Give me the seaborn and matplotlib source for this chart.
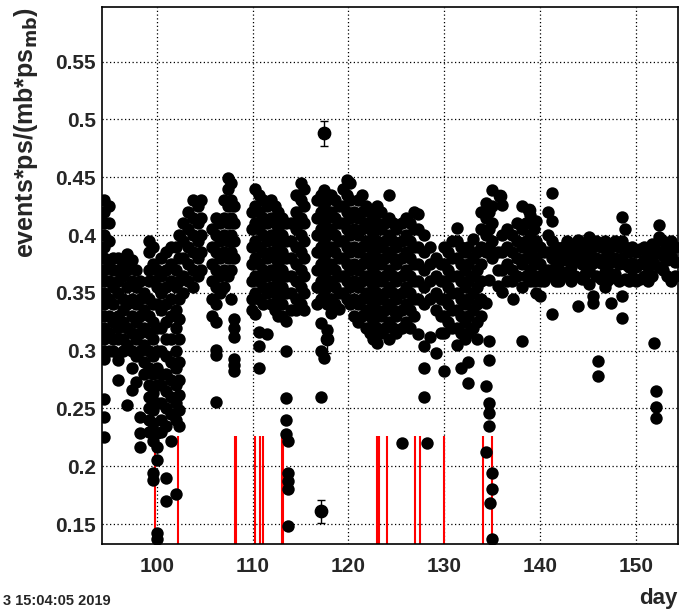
import pandas as pd
import matplotlib
matplotlib.use("Agg")
import matplotlib.pyplot as plt
from matplotlib.ticker import MultipleLocator, FixedLocator
import seaborn as sns

# === DATA ===
# each block: days of the point columns + the rates measured at that day
days_a = [94.5, 95.0, 95.5, 96.0, 96.5, 96.9, 97.4, 97.9, 98.3, 98.7, 99.2, 99.6, 100.0,
          100.5, 101.0, 101.5, 102.0, 102.3, 102.8, 103.3, 103.8, 104.3, 104.6]
rates_a = [
    [0.43, 0.42, 0.41, 0.40, 0.39, 0.38, 0.37, 0.36, 0.35, 0.34, 0.33, 0.32, 0.31, 0.30, 0.293, 0.258, 0.243, 0.225],
    [0.425, 0.41, 0.395, 0.375, 0.36, 0.345, 0.33, 0.315, 0.30],
    [0.38, 0.37, 0.355, 0.34, 0.325, 0.31, 0.30],
    [0.38, 0.37, 0.36, 0.35, 0.33, 0.32, 0.31, 0.292, 0.275],
    [0.375, 0.365, 0.345, 0.335, 0.325, 0.31, 0.30],
    [0.384, 0.37, 0.355, 0.34, 0.32, 0.305, 0.253],
    [0.378, 0.36, 0.345, 0.33, 0.315, 0.30, 0.285, 0.266],
    [0.37, 0.355, 0.34, 0.325, 0.31, 0.295, 0.273],
    [0.36, 0.345, 0.33, 0.315, 0.30, 0.243, 0.229, 0.217],
    [0.35, 0.335, 0.32, 0.305, 0.29, 0.28],
    [0.395, 0.385, 0.37, 0.36, 0.345, 0.33, 0.315, 0.30, 0.285, 0.27, 0.26, 0.25, 0.24, 0.23],
    [0.39, 0.375, 0.36, 0.34, 0.325, 0.31, 0.295, 0.28, 0.263, 0.249, 0.237, 0.222, 0.194, 0.188],
    [0.37, 0.355, 0.34, 0.32, 0.30, 0.285, 0.27, 0.255, 0.229, 0.217, 0.205, 0.142, 0.137],
    [0.38, 0.365, 0.35, 0.335, 0.32, 0.30, 0.28, 0.27, 0.255, 0.24, 0.23],
    [0.385, 0.37, 0.355, 0.34, 0.325, 0.31, 0.295, 0.28, 0.265, 0.25, 0.235, 0.19, 0.17],
    [0.39, 0.375, 0.36, 0.345, 0.33, 0.31, 0.29, 0.275, 0.26, 0.245, 0.222],
    [0.39, 0.37, 0.355, 0.335, 0.32, 0.30, 0.285, 0.27, 0.255, 0.24, 0.176],
    [0.40, 0.38, 0.36, 0.345, 0.327, 0.31, 0.29, 0.275, 0.262, 0.249, 0.235],
    [0.41, 0.395, 0.38, 0.365, 0.35],
    [0.42, 0.405, 0.39, 0.375, 0.36],
    [0.43, 0.415, 0.40, 0.385, 0.37, 0.355],
    [0.425, 0.41, 0.395, 0.38, 0.365],
    [0.43, 0.415, 0.40, 0.385, 0.37],
]

days_b = [105.8, 106.2, 106.6, 107.0, 107.4, 107.8, 108.1]
rates_b = [
    [0.405, 0.39, 0.375, 0.36, 0.345, 0.33],
    [0.415, 0.40, 0.385, 0.37, 0.355, 0.34, 0.325, 0.301, 0.296, 0.256],
    [0.41, 0.395, 0.38, 0.365, 0.35],
    [0.43, 0.415, 0.40, 0.385, 0.37, 0.355],
    [0.449, 0.44, 0.425, 0.41, 0.395, 0.38, 0.365],
    [0.445, 0.43, 0.415, 0.40, 0.385, 0.37, 0.345],
    [0.425, 0.41, 0.395, 0.38, 0.327, 0.32, 0.312, 0.293, 0.288, 0.282],
]

days_c = [109.9, 110.3, 110.7, 111.1, 111.5, 111.9, 112.3, 112.7, 113.1, 113.5, 113.7]
rates_c = [
    [0.42, 0.405, 0.39, 0.375, 0.36, 0.345, 0.335],
    [0.44, 0.425, 0.41, 0.395, 0.38, 0.365, 0.35, 0.332],
    [0.435, 0.42, 0.405, 0.39, 0.375, 0.36, 0.345, 0.316, 0.304, 0.285],
    [0.43, 0.415, 0.40, 0.385, 0.37, 0.355, 0.34],
    [0.425, 0.41, 0.395, 0.38, 0.365, 0.35, 0.314],
    [0.43, 0.415, 0.40, 0.385, 0.37, 0.355, 0.34],
    [0.425, 0.41, 0.395, 0.38, 0.365, 0.35, 0.335],
    [0.42, 0.405, 0.39, 0.375, 0.36, 0.345, 0.33],
    [0.415, 0.40, 0.385, 0.37, 0.355, 0.34, 0.33],
    [0.41, 0.395, 0.38, 0.365, 0.35, 0.326, 0.30, 0.259, 0.24, 0.228],
    [0.222, 0.194, 0.187, 0.18, 0.148],
]

days_d = [114.0, 114.5, 115.0, 115.4]
rates_d = [
    [0.41, 0.395, 0.38, 0.365, 0.35, 0.335],
    [0.435, 0.42, 0.405, 0.39, 0.375, 0.36, 0.345, 0.335],
    [0.445, 0.43, 0.415, 0.40, 0.385, 0.37, 0.355, 0.34],
    [0.44, 0.425, 0.41, 0.395, 0.38, 0.365, 0.35, 0.335],
]

days_e = [116.7, 117.1, 117.5, 117.8, 118.2, 118.6, 119.0, 119.4, 119.8, 120.2, 120.6,
          121.0, 121.4, 121.8, 122.2, 122.6, 123.0, 123.4, 123.8, 124.2, 124.6, 125.0]
rates_e = [
    [0.43, 0.415, 0.40, 0.385, 0.37, 0.355, 0.34],
    [0.435, 0.42, 0.405, 0.39, 0.375, 0.36, 0.345, 0.324, 0.30, 0.26, 0.161],
    [0.439, 0.425, 0.41, 0.395, 0.38, 0.365, 0.35, 0.294, 0.488],
    [0.43, 0.415, 0.40, 0.385, 0.37, 0.355, 0.34, 0.318, 0.31],
    [0.435, 0.42, 0.405, 0.39, 0.375, 0.36, 0.345, 0.333],
    [0.43, 0.415, 0.40, 0.385, 0.37, 0.355, 0.34],
    [0.425, 0.41, 0.395, 0.38, 0.365, 0.35, 0.336],
    [0.44, 0.425, 0.41, 0.395, 0.38, 0.365, 0.35],
    [0.448, 0.435, 0.42, 0.405, 0.39, 0.375, 0.36, 0.345],
    [0.445, 0.43, 0.415, 0.40, 0.385, 0.37, 0.355, 0.34],
    [0.42, 0.405, 0.39, 0.375, 0.36, 0.345, 0.33],
    [0.43, 0.415, 0.40, 0.385, 0.37, 0.355, 0.34, 0.325],
    [0.435, 0.42, 0.405, 0.39, 0.375, 0.36, 0.345, 0.33],
    [0.425, 0.41, 0.395, 0.38, 0.365, 0.35, 0.335, 0.32],
    [0.42, 0.405, 0.39, 0.375, 0.36, 0.345, 0.33, 0.315],
    [0.415, 0.40, 0.385, 0.37, 0.355, 0.34, 0.325, 0.31],
    [0.425, 0.41, 0.395, 0.38, 0.365, 0.35, 0.335, 0.32, 0.307],
    [0.42, 0.405, 0.39, 0.375, 0.36, 0.345, 0.33, 0.315],
    [0.41, 0.395, 0.38, 0.365, 0.35, 0.335, 0.32],
    [0.435, 0.415, 0.40, 0.385, 0.37, 0.355, 0.34, 0.325, 0.31],
    [0.41, 0.395, 0.38, 0.365, 0.35, 0.335, 0.32],
    [0.405, 0.39, 0.375, 0.36, 0.345, 0.33, 0.315],
]

days_f = [125.6, 126.0, 126.4, 126.8, 127.3, 127.9, 128.2, 128.5, 129.1]
rates_f = [
    [0.41, 0.395, 0.38, 0.365, 0.35, 0.335, 0.32, 0.22],
    [0.415, 0.40, 0.385, 0.37, 0.355, 0.34, 0.325],
    [0.41, 0.395, 0.38, 0.365, 0.35, 0.335, 0.32],
    [0.42, 0.405, 0.39, 0.375, 0.36, 0.345, 0.33],
    [0.418, 0.405, 0.39, 0.375, 0.36, 0.345, 0.314],
    [0.40, 0.385, 0.37, 0.355, 0.34, 0.304, 0.285, 0.26],
    [0.22],
    [0.39, 0.375, 0.36, 0.345, 0.312],
    [0.38, 0.365, 0.35, 0.335, 0.298],
]

days_g = [129.6, 130.0, 130.4, 130.8, 131.3, 131.7, 132.1, 132.5, 133.0, 133.4]
rates_g = [
    [0.375, 0.36, 0.345, 0.33, 0.315],
    [0.39, 0.375, 0.36, 0.345, 0.33, 0.315, 0.282],
    [0.385, 0.37, 0.355, 0.34, 0.325],
    [0.395, 0.38, 0.365, 0.35, 0.335, 0.32],
    [0.406, 0.395, 0.38, 0.365, 0.35, 0.335, 0.32, 0.305],
    [0.39, 0.375, 0.36, 0.345, 0.33, 0.315, 0.285],
    [0.385, 0.37, 0.355, 0.34, 0.325, 0.31],
    [0.39, 0.375, 0.36, 0.345, 0.33, 0.315, 0.29, 0.272],
    [0.397, 0.38, 0.365, 0.35, 0.335, 0.32],
    [0.385, 0.37, 0.355, 0.34, 0.325, 0.31],
]

days_h = [133.8, 134.3, 134.6, 134.8, 135.0, 135.6]
rates_h = [
    [0.42, 0.405, 0.39, 0.375, 0.36, 0.345, 0.33],
    [0.428, 0.415, 0.40, 0.385, 0.341, 0.269, 0.212],
    [0.42, 0.405, 0.39, 0.361, 0.308, 0.292, 0.255, 0.246, 0.235],
    [0.168],
    [0.439, 0.425, 0.41, 0.395, 0.38, 0.194, 0.18, 0.137],
    [0.385, 0.37, 0.356],
]

days_i = [136.0, 136.5, 137.0, 137.2, 137.6, 138.1, 138.5, 138.9, 139.3, 139.6, 140.0,
          140.4, 140.8, 141.2, 141.6, 142.0, 142.4, 142.8, 143.2, 143.6, 143.9, 144.3,
          144.7, 145.1, 145.5, 145.8, 146.0, 146.3, 146.7, 147.0, 147.4, 147.8, 148.2,
          148.5, 148.8, 149.2, 149.6, 150.0, 150.4, 150.8, 151.2, 151.6, 151.9, 152.1,
          152.4, 152.8, 153.2, 153.6, 154.0]
rates_i = [
    [0.426, 0.40, 0.385, 0.37, 0.351],
    [0.405, 0.39, 0.375, 0.36],
    [0.40, 0.385, 0.37, 0.36],
    [0.345],
    [0.41, 0.395, 0.38, 0.365],
    [0.425, 0.405, 0.39, 0.375, 0.355, 0.308],
    [0.41, 0.395, 0.38, 0.365],
    [0.417, 0.40, 0.385, 0.37, 0.36],
    [0.405, 0.39, 0.375, 0.36],
    [0.412, 0.395, 0.38, 0.365, 0.35],
    [0.39, 0.375, 0.36, 0.347],
    [0.385, 0.37, 0.36],
    [0.42, 0.40, 0.385, 0.37],
    [0.436, 0.412, 0.395, 0.38, 0.365, 0.332],
    [0.39, 0.375, 0.36],
    [0.385, 0.37, 0.36],
    [0.39, 0.378, 0.365],
    [0.395, 0.38, 0.368],
    [0.385, 0.372, 0.36],
    [0.39, 0.378, 0.365],
    [0.396, 0.38, 0.339],
    [0.388, 0.375, 0.362],
    [0.392, 0.378, 0.366],
    [0.398, 0.385, 0.37, 0.358],
    [0.39, 0.376, 0.347, 0.341],
    [0.395, 0.38, 0.365],
    [0.291, 0.278],
    [0.39, 0.376, 0.362],
    [0.395, 0.38, 0.368, 0.355],
    [0.385, 0.372, 0.36],
    [0.39, 0.377, 0.363, 0.341],
    [0.395, 0.38, 0.366],
    [0.39, 0.375, 0.36],
    [0.416, 0.395, 0.38, 0.347, 0.328],
    [0.405, 0.39, 0.375, 0.362],
    [0.385, 0.372, 0.36],
    [0.39, 0.376, 0.364],
    [0.385, 0.372, 0.36],
    [0.388, 0.375, 0.362],
    [0.39, 0.378, 0.365],
    [0.385, 0.372, 0.36],
    [0.392, 0.378, 0.365],
    [0.39, 0.375, 0.307],
    [0.265, 0.251, 0.242],
    [0.409, 0.398, 0.385, 0.372],
    [0.395, 0.382, 0.37],
    [0.39, 0.378, 0.365],
    [0.395, 0.382, 0.36],
    [0.39, 0.377, 0.365],
]

# points whose error bars stick out of the markers
err_days = [117.5, 117.1, 117.8, 135.8, 138.8, 114.7]
err_rates = [0.488, 0.161, 0.310, 0.434, 0.422, 0.412]
err_sizes = [0.011, 0.010, 0.012, 0.004, 0.004, 0.004]

# red marks (days), drawn from the bottom of the frame up to cut_top
cut_days = [99.83, 102.25, 108.2, 108.25, 110.28, 110.73, 111.07, 113.1, 113.2,
            122.95, 123.2, 124.0, 126.9, 127.45, 130.0, 134.0, 134.95]
cut_top = 0.2265

ytick_vals = [0.15, 0.2, 0.25, 0.3, 0.35, 0.4, 0.45, 0.5, 0.55]
ytick_labels = ["0.15", "0.2", "0.25", "0.3", "0.35", "0.4", "0.45", "0.5", "0.55"]
xtick_vals = [100, 110, 120, 130, 140, 150]

# === Build table ===
blocks = [(days_a, rates_a), (days_b, rates_b), (days_c, rates_c), (days_d, rates_d),
          (days_e, rates_e), (days_f, rates_f), (days_g, rates_g), (days_h, rates_h),
          (days_i, rates_i)]
rows = []
for days, rates in blocks:
    for d, col in zip(days, rates):
        for r in col:
            rows.append((d, r))
df = pd.DataFrame(rows, columns=["day", "rate"])

# === Plot ===
sns.set_style("white")
plt.rcParams["font.family"] = ["Liberation Sans", "DejaVu Sans"]
plt.rcParams["font.weight"] = "bold"

fig = plt.figure(figsize=(6.81, 6.12), dpi=100)
ax = fig.add_axes([0.1493, 0.1106, 0.8458, 0.8775])

ax.vlines(cut_days, 0.1325, cut_top, colors="#ff0000", linewidth=1.5, zorder=2)
sns.scatterplot(data=df, x="day", y="rate", color="black", s=80, linewidth=0,
                ax=ax, zorder=3, legend=False)
ax.errorbar(err_days, err_rates, yerr=err_sizes, fmt="o", color="black", ms=8.9,
            capsize=3, elinewidth=1, capthick=1, zorder=4)

ax.set_xlim(94.27, 154.32)
ax.set_ylim(0.1325, 0.597)
ax.xaxis.set_major_locator(FixedLocator(xtick_vals))
ax.xaxis.set_minor_locator(MultipleLocator(2))
ax.yaxis.set_major_locator(FixedLocator(ytick_vals))
ax.set_yticklabels(ytick_labels)
ax.yaxis.set_minor_locator(MultipleLocator(0.01))

ax.grid(True, which="major", color="black", linestyle=(0, (1, 2)), linewidth=0.9)
ax.set_axisbelow(True)
ax.tick_params(axis="x", which="major", direction="in", length=11, width=1.2,
               labelsize=15, pad=9, top=False)
ax.tick_params(axis="x", which="minor", direction="in", length=5.5, width=1.2, top=False)
ax.tick_params(axis="y", which="major", direction="in", length=13, width=1.2,
               labelsize=15, pad=4, right=False)
ax.tick_params(axis="y", which="minor", direction="in", length=7, width=1.2, right=False)
for side in ax.spines.values():
    side.set_color("black")
    side.set_linewidth(1.2)

ax.set_xlabel("day", loc="right", fontsize=16, fontweight="bold", labelpad=9)
ax.set_ylabel("events*ps/(mb*ps$_{\\mathbf{mb}}$)", loc="top", fontsize=18,
              fontweight="bold", labelpad=11)
fig.text(0.004, 0.012, "3 15:04:05 2019", fontsize=10.5, fontweight="bold")

plt.savefig("out.png", dpi=100)
